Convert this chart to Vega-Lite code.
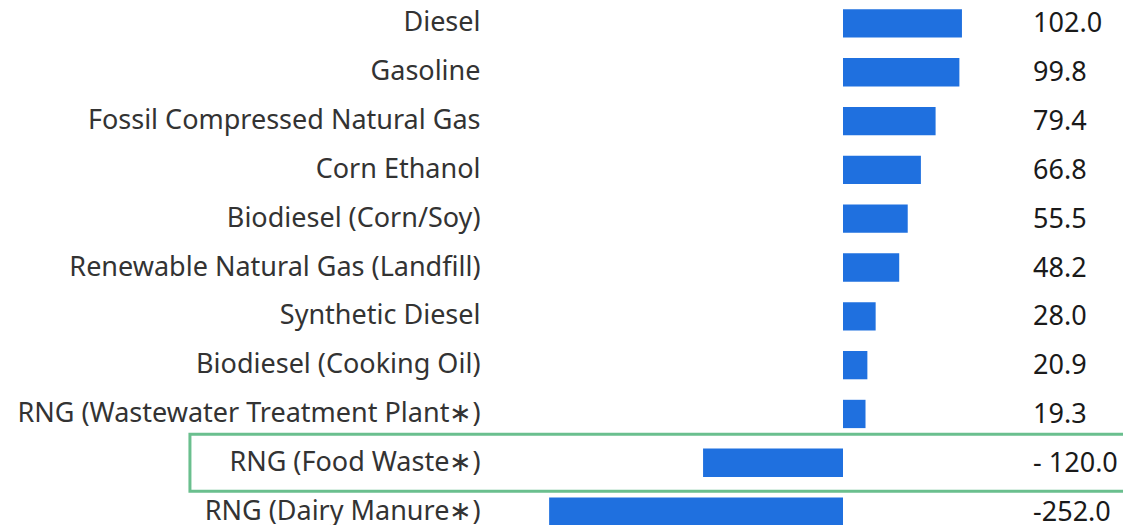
{
  "$schema": "https://vega.github.io/schema/vega-lite/v6.json",
  "width": 633,
  "height": 525,
  "autosize": {"type": "none"},
  "padding": {"left": 490, "top": 0, "right": 0, "bottom": 0},
  "background": "white",
  "config": {"view": {"stroke": null}},
  "data": {
    "values": [
      {"fuel": "Diesel", "ci": 102.0, "label": "102.0", "hl": false},
      {"fuel": "Gasoline", "ci": 99.8, "label": "99.8", "hl": false},
      {"fuel": "Fossil Compressed Natural Gas", "ci": 79.4, "label": "79.4", "hl": false},
      {"fuel": "Corn Ethanol", "ci": 66.8, "label": "66.8", "hl": false},
      {"fuel": "Biodiesel (Corn/Soy)", "ci": 55.5, "label": "55.5", "hl": false},
      {"fuel": "Renewable Natural Gas (Landfill)", "ci": 48.2, "label": "48.2", "hl": false},
      {"fuel": "Synthetic Diesel", "ci": 28.0, "label": "28.0", "hl": false},
      {"fuel": "Biodiesel (Cooking Oil)", "ci": 20.9, "label": "20.9", "hl": false},
      {"fuel": "RNG (Wastewater Treatment Plant∗)", "ci": 19.3, "label": "19.3", "hl": false},
      {"fuel": "RNG (Food Waste∗)", "ci": -120.0, "label": "- 120.0", "hl": true},
      {"fuel": "RNG (Dairy Manure∗)", "ci": -252.0, "label": "-252.0", "hl": false}
    ]
  },
  "encoding": {
    "y": {
      "field": "fuel",
      "type": "nominal",
      "sort": null,
      "scale": {"range": [-1, 536], "paddingInner": 0.42, "paddingOuter": 0.21},
      "axis": {
        "title": null,
        "domain": false,
        "ticks": false,
        "labelPadding": 10,
        "labelFont": "Noto Sans",
        "labelFontSize": 27,
        "labelColor": "#333333",
        "labelLimit": 600
      }
    }
  },
  "layer": [
    {
      "mark": {"type": "bar", "color": "#1f70df", "clip": false},
      "encoding": {
        "x": {
          "field": "ci",
          "type": "quantitative",
          "scale": {"domain": [-302.7, 240.1], "nice": false, "zero": false},
          "axis": null
        }
      }
    },
    {
      "mark": {"type": "text", "align": "left", "baseline": "middle", "font": "Noto Sans", "fontSize": 27, "color": "#1a1a1a", "dy": 1},
      "encoding": {
        "x": {"datum": 163, "type": "quantitative"},
        "text": {"field": "label"}
      }
    },
    {
      "transform": [{"filter": "datum.hl"}],
      "mark": {"type": "rect", "fill": null, "fillOpacity": 0, "stroke": "#6abf8e", "strokeWidth": 3, "height": 57, "clip": false},
      "encoding": {
        "x": {"datum": -560, "type": "quantitative"},
        "x2": {"datum": 262}
      }
    }
  ]
}
